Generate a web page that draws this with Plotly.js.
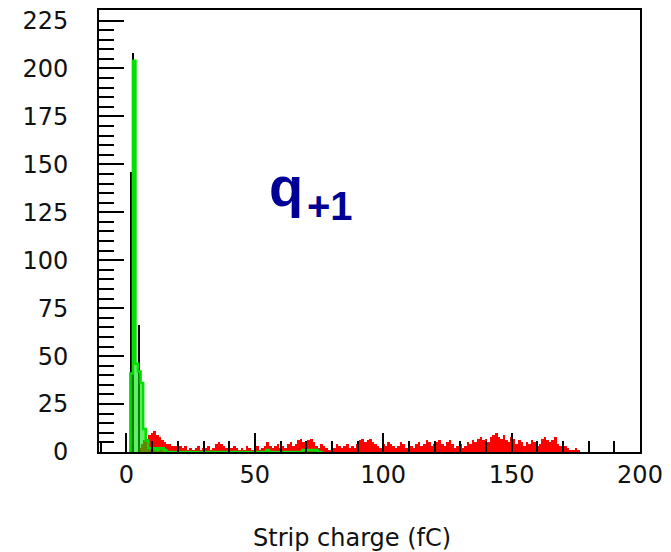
<!DOCTYPE html>
<html>
<head>
<meta charset="utf-8">
<script src="https://cdn.plot.ly/plotly-3.0.1.min.js"></script>
<style>html,body{margin:0;padding:0;background:#fff;}#chart{width:671px;height:552px;}</style>
</head>
<body>
<div id="chart"></div>
<script>
// ---- data ----
const redStart = 5;   // first red bin centre (fC), 1 fC bins
const redCounts = [
  2, 4, 6, 7, 9, 10, 11, 9, 8, 6,
  5, 4, 4, 3, 3, 2, 3, 2, 3, 1,
  2, 1, 2, 3, 1, 2, 2, 3, 1, 2,
  4, 5, 4, 3, 2, 1, 2, 3, 2, 1,
  2, 1, 3, 2, 1, 2, 3, 1, 2, 3,
  5, 3, 2, 3, 4, 2, 3, 2, 4, 5,
  3, 4, 6, 7, 5, 4, 6, 7, 5, 3,
  2, 4, 3, 2, 1, 3, 2, 4, 3, 2,
  3, 4, 2, 3, 2, 4, 6, 7, 5, 6,
  7, 5, 4, 3, 2, 4, 3, 5, 4, 3,
  2, 3, 5, 4, 2, 1, 3, 2, 4, 5,
  3, 4, 6, 5, 3, 4, 5, 6, 4, 3,
  5, 6, 4, 2, 3, 4, 2, 3, 5, 4,
  6, 5, 7, 8, 6, 7, 5, 8, 9, 10,
  8, 7, 9, 6, 5, 8, 7, 4, 6, 5,
  3, 5, 4, 6, 5, 3, 4, 7, 8, 6,
  5, 6, 8, 4, 3, 2, 3, 2, 1, 1,
  2, 1
];
const greenStart = 2; // first green bin centre (fC), 1 fC bins
const greenCounts = [
  41, 204, 46, 42, 36, 12, 6, 2, 2, 2,
  1, 2, 2, 1, 0, 0, 0, 0, 0, 0,
  0, 0, 0, 0, 0, 0, 0, 0, 0, 0,
  0, 0, 0, 0, 0, 0, 0, 0, 0, 0,
  0, 0, 0, 0, 0, 0, 0, 0, 0, 0,
  0, 0, 0, 1, 0, 0, 0, 0, 0, 0,
  0, 0, 0, 0, 0, 0, 0, 1, 1, 1,
  1, 1, 1, 0, 0
];
const blackX = [1.8, 2.6, 4.9];
const blackCounts = [146, 208, 66];
const yTickVals = [0, 25, 50, 75, 100, 125, 150, 175, 200, 225];
const xTickVals = [0, 50, 100, 150, 200];
const xTitle = "Strip charge (fC)";

const redX = redCounts.map((_, i) => redStart + i);
const greenX = greenCounts.map((_, i) => greenStart + i);

// step outline of the green histogram (bin edges derived from the bins)
const greenEdgesX = [greenX[0] - 0.5].concat(greenX.map(x => x - 0.5), [greenX[greenX.length - 1] + 0.5]);
const greenEdgesY = [0].concat(greenCounts, [0]);

const tickFont = {family: "DejaVu Sans", size: 24, color: "#111"};

const traces = [
  {type: "bar", x: redX, y: redCounts, width: 1,
   marker: {color: "#ff0000", line: {width: 0}}, hoverinfo: "skip"},
  {type: "bar", x: blackX, y: blackCounts, width: 0.75,
   marker: {color: "#000000", line: {width: 0}}, hoverinfo: "skip"},
  {type: "scatter", mode: "lines", x: greenEdgesX, y: greenEdgesY,
   fill: "tozeroy", fillcolor: "rgba(0,224,0,0.6)",
   line: {shape: "hv", color: "#00e000", width: 2.5}, hoverinfo: "skip"}
];

const layout = {
  width: 671, height: 552,
  margin: {l: 99, r: 31, t: 10, b: 100, pad: 0},
  paper_bgcolor: "#fff", plot_bgcolor: "#fff",
  showlegend: false,
  barmode: "overlay", bargap: 0,
  xaxis: {
    range: [-10.7, 200], tickvals: xTickVals, ticktext: xTickVals.map(String),
    ticks: "inside", ticklen: 19, tickwidth: 2, tickcolor: "#000",
    minor: {dtick: 10, tick0: 0, ticks: "inside", ticklen: 11, tickwidth: 2, tickcolor: "#000"},
    showline: true, linecolor: "#000", linewidth: 2, mirror: true,
    showgrid: false, zeroline: false, tickfont: tickFont, ticklabelstandoff: 0
  },
  yaxis: {
    range: [0, 230.5], tickvals: yTickVals, ticktext: yTickVals.map(String),
    ticks: "inside", ticklen: 25, tickwidth: 2, tickcolor: "#000",
    minor: {dtick: 5, tick0: 0, ticks: "inside", ticklen: 15, tickwidth: 2, tickcolor: "#000"},
    showline: true, linecolor: "#000", linewidth: 2, mirror: true,
    showgrid: false, zeroline: false, tickfont: tickFont, ticklabelstandoff: 24
  },
  annotations: [
    {xref: "paper", yref: "paper", x: (352 - 99) / 541, y: (452 - 538) / 442,
     xanchor: "center", yanchor: "middle", showarrow: false,
     text: xTitle, font: tickFont},
    {xref: "paper", yref: "paper", x: (286 - 99) / 541, y: (452 - 186) / 442,
     xanchor: "center", yanchor: "middle", showarrow: false,
     text: "<b>q</b>", font: {family: "Liberation Sans", size: 56, color: "#000096"}},
    {xref: "paper", yref: "paper", x: (305 - 99) / 541, y: (452 - 206) / 442,
     xanchor: "left", yanchor: "middle", showarrow: false,
     text: "<b>+1</b>", font: {family: "Liberation Sans", size: 40, color: "#000096"}}
  ]
};

Plotly.newPlot("chart", traces, layout, {staticPlot: true, displayModeBar: false});
</script>
</body>
</html>
